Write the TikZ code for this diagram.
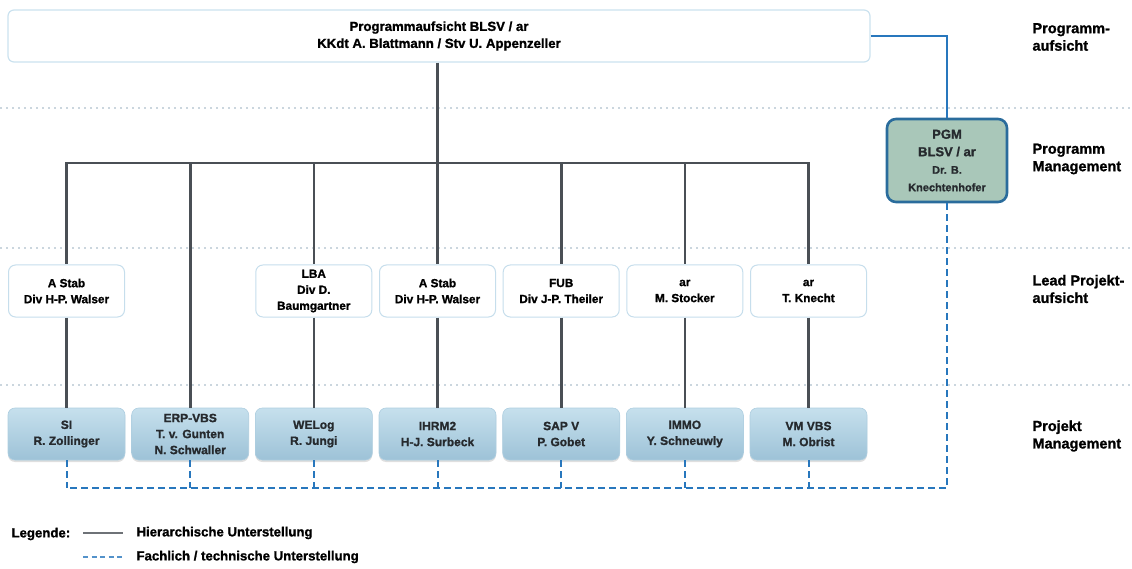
\documentclass[tikz,border=0pt]{standalone}
\usepackage{fontspec}
\setmainfont{Liberation Sans}[BoldFeatures={FakeBold=1.2}]
\usetikzlibrary{shadows}
\definecolor{hier}{HTML}{4A4F55}
\definecolor{fblue}{HTML}{2877BD}
\definecolor{sepc}{HTML}{CBD6DE}
\definecolor{topborder}{HTML}{CBE2EF}
\definecolor{leadborder}{HTML}{C6DEEC}
\definecolor{projtop}{HTML}{C6E0ED}
\definecolor{projbot}{HTML}{9DC2D7}
\definecolor{projborder}{HTML}{AECEE0}
\definecolor{projtext}{HTML}{262A2E}
\definecolor{pgmfill}{HTML}{A9C7B9}
\definecolor{pgmborder}{HTML}{2A6C9C}
\tikzset{
  hline/.style={draw=hier, line width=2.6pt},
  bline/.style={draw=fblue, line width=1.6pt},
  fline/.style={draw=fblue, line width=2pt, dash pattern=on 7pt off 4pt},
  sepline/.style={draw=sepc, line width=1.2pt, dash pattern=on 2pt off 4pt},
  topbox/.style={draw=topborder, line width=1.2pt, fill=white, rounded corners=6pt,
    minimum width=862pt, minimum height=52pt, align=center,
    font=\bfseries\fontsize{13.2}{17}\selectfont},
  leadbox/.style={draw=leadborder, line width=1pt, fill=white, rounded corners=7pt,
    minimum width=116pt, minimum height=52pt, align=center, inner sep=1pt,
    font=\bfseries\fontsize{11.8}{16}\selectfont},
  projbox/.style={draw=projborder, line width=0.6pt, top color=projtop, bottom color=projbot,
    rounded corners=7pt, minimum width=117pt, minimum height=52pt, align=center, inner sep=1pt,
    text=projtext, font=\bfseries\fontsize{12}{16}\selectfont,
    drop shadow={opacity=0.25, shadow xshift=0pt, shadow yshift=-2pt}},
  pgmbox/.style={draw=pgmborder, line width=2.6pt, fill=pgmfill, rounded corners=9pt,
    minimum width=120pt, minimum height=83pt, align=center, inner sep=1pt, text=projtext,
    font=\bfseries\fontsize{13}{17.5}\selectfont},
  lvl/.style={anchor=west, align=left, font=\bfseries\fontsize{14.5}{17.5}\selectfont},
  legtext/.style={anchor=west, font=\bfseries\fontsize{13.2}{16}\selectfont},
}
\begin{document}
\begin{tikzpicture}[x=1pt,y=-1pt]
\useasboundingbox (0,0) rectangle (1132,569);
% separators
\draw[sepline] (0,108) -- (1132,108);
\draw[sepline] (0,248) -- (1132,248);
\draw[sepline] (0,385) -- (1132,385);

% top box
\node[topbox] (top) at (439,36) {Programmaufsicht BLSV / ar\\KKdt A. Blattmann / Stv U. Appenzeller};

% PGM
\node[pgmbox] (pgm) at (947,160.5) {PGM\\BLSV / ar\\{\fontsize{11}{17}\selectfont Dr. B.}\\{\fontsize{11}{17}\selectfont Knechtenhofer}};

% bus coordinates
\coordinate (b1) at (66.5,163);
\coordinate (b2) at (190.2,163);
\coordinate (b3) at (313.8,163);
\coordinate (b4) at (437.5,163);
\coordinate (b5) at (561.2,163);
\coordinate (b6) at (684.8,163);
\coordinate (b7) at (808.5,163);

% lead boxes
\node[leadbox] (l1) at (66.5,291) {A Stab\\Div H-P. Walser};
\node[leadbox] (l3) at (313.8,291) {LBA\\Div D.\\Baumgartner};
\node[leadbox] (l4) at (437.5,291) {A Stab\\Div H-P. Walser};
\node[leadbox] (l5) at (561.2,291) {FUB\\Div J-P. Theiler};
\node[leadbox] (l6) at (684.8,291) {ar\\M. Stocker};
\node[leadbox] (l7) at (808.5,291) {ar\\T. Knecht};

% project boxes
\node[projbox] (p1) at (66.5,434) {SI\\R. Zollinger};
\node[projbox] (p2) at (190.2,434) {ERP-VBS\\T. v. Gunten\\N. Schwaller};
\node[projbox] (p3) at (313.8,434) {WELog\\R. Jungi};
\node[projbox] (p4) at (437.5,434) {IHRM2\\H-J. Surbeck};
\node[projbox] (p5) at (561.2,434) {SAP V\\P. Gobet};
\node[projbox] (p6) at (684.8,434) {IMMO\\Y. Schneuwly};
\node[projbox] (p7) at (808.5,434) {VM VBS\\M. Obrist};

% hierarchical lines
\draw[hline] (b4 |- top.south) -- (b4);
\draw[hline, line cap=rect] (b1) -- (b7);
\draw[hline] (b1) -- (l1.north);
\draw[hline] (b2) -- (p2.north);
\draw[hline] (b3) -- (l3.north);
\draw[hline] (b4) -- (l4.north);
\draw[hline] (b5) -- (l5.north);
\draw[hline] (b6) -- (l6.north);
\draw[hline] (b7) -- (l7.north);
\foreach \i in {1,3,4,5,6,7} {\draw[hline] (l\i.south) -- (p\i.north);}

% blue solid line from program supervision to PGM
\draw[bline] (top.east) -| (pgm.north);

% dashed technical lines
\coordinate (dr) at (947,488);
\coordinate (dl) at (66.5,488);
\draw[fline] (pgm.south) -- (dr) -- (dl);
\foreach \i in {1,...,7} {\draw[fline] (p\i.south) -- (p\i.south |- dl);}

% level labels
\node[lvl] (lv1) at (1029,37) {Programm-\\aufsicht};
\node[lvl] (lv2) at (1029,159) {Programm\\Management};
\node[lvl] (lv3) at (1029,289) {Lead Projekt-\\aufsicht};
\node[lvl] (lv4) at (1029,436) {Projekt\\Management};

% legend
\node[legtext] (legt) at (8,534) {Legende:};
\coordinate (la1) at (83,533);
\coordinate (la2) at (123,533);
\coordinate (lb1) at (83,557);
\coordinate (lb2) at (123,557);
\draw[draw=hier!80, line width=1.6pt] (la1) -- (la2);
\draw[draw=fblue!80, line width=1.4pt, dash pattern=on 5pt off 3.5pt] (lb1) -- (lb2);
\node[legtext] (leg1) at (133,533) {Hierarchische Unterstellung};
\node[legtext] (leg2) at (133,557) {Fachlich / technische Unterstellung};
\end{tikzpicture}
\end{document}
